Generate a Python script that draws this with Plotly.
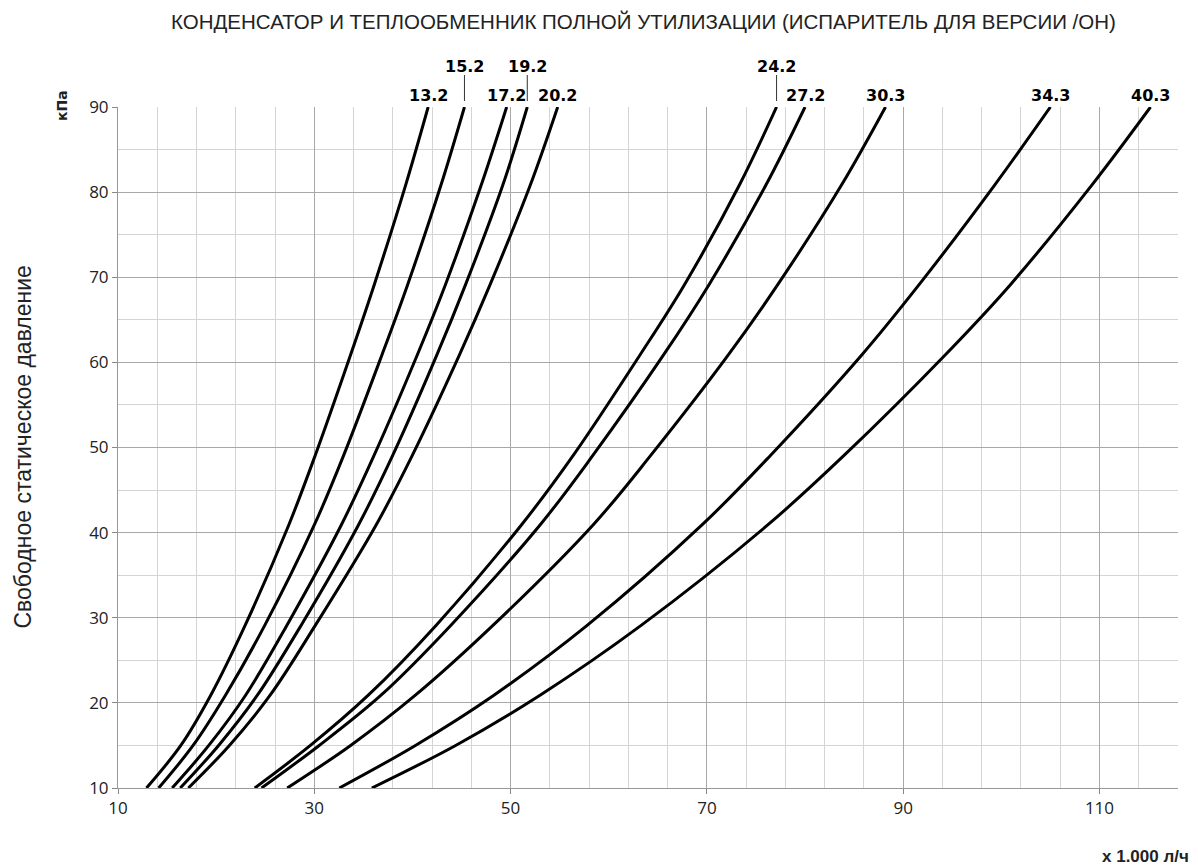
import plotly.graph_objects as go

# Pressure levels (kPa) at which the flow values were read
pressure = [10, 15, 20.9, 29.1, 40.9, 49.1, 60.9, 69.1, 80.8, 90]

# Flow (x 1000 l/h) of each curve at those pressure levels
curve_13_2 = [12.9, 16.4, 19.45, 22.95, 27.4, 30.1, 33.7, 36.1, 39.3, 41.6]
curve_15_2 = [14.14, 17.65, 20.95, 24.95, 30.0, 33.0, 36.9, 39.5, 42.9, 45.3]
curve_17_2 = [15.52, 19.25, 23.0, 27.2, 32.75, 36.1, 40.5, 43.35, 47.0, 49.6]
curve_19_2 = [16.34, 20.25, 24.2, 28.65, 34.5, 38.0, 42.5, 45.4, 49.2, 51.7]
curve_20_2 = [17.17, 21.35, 25.5, 30.1, 36.3, 40.0, 44.8, 47.9, 52.0, 54.8]
curve_24_2 = [23.93, 29.6, 35.5, 42.4, 51.1, 56.4, 63.2, 67.7, 73.3, 77.1]
curve_27_2 = [24.62, 30.5, 36.8, 43.9, 53.0, 58.4, 65.6, 70.2, 76.0, 80.0]
curve_30_3 = [27.24, 33.7, 40.3, 48.2, 58.4, 64.3, 72.2, 77.2, 83.7, 88.2]
curve_34_3 = [32.55, 40.3, 48.3, 57.8, 69.5, 76.5, 85.8, 91.6, 99.3, 105.0]
curve_40_3 = [35.86, 44.4, 53.0, 63.3, 76.2, 84.0, 94.3, 100.9, 109.2, 115.2]

curve_names = ["13.2", "15.2", "17.2", "19.2", "20.2", "24.2", "27.2", "30.3", "34.3", "40.3"]
curves = [curve_13_2, curve_15_2, curve_17_2, curve_19_2, curve_20_2,
          curve_24_2, curve_27_2, curve_30_3, curve_34_3, curve_40_3]
# labels drawn on the upper row (with a leader line)
upper_labels = ["15.2", "19.2", "24.2"]

title_text = "КОНДЕНСАТОР И ТЕПЛООБМЕННИК ПОЛНОЙ УТИЛИЗАЦИИ (ИСПАРИТЕЛЬ ДЛЯ ВЕРСИИ /ОН)"
y_title = "Свободное статическое давление"
y_unit = "кПа"
x_unit = "x 1.000 л/ч"

# page has an 8px body margin; figure sized to fill the rest of the window
W, H = 1190, 859
L, R, T, B = 110, 20, 99, 79
plot_w = W - L - R
plot_h = H - T - B
OFF = 8


def sx_to_paper(sx):
    return (sx - OFF - L) / plot_w


def sy_to_paper(sy):
    return 1 + (T + OFF - sy) / plot_h


fig = go.Figure()
for name, xs in zip(curve_names, curves):
    fig.add_trace(go.Scatter(x=xs, y=pressure, mode="lines", name=name,
                             line=dict(color="black", width=3, shape="spline", smoothing=1.0),
                             showlegend=False, hoverinfo="skip"))

label_font = dict(family="DejaVu Sans", size=16, color="black")
for name, xs in zip(curve_names, curves):
    top_x = xs[-1]
    if name in upper_labels:
        fig.add_annotation(x=top_x, xref="x", y=sy_to_paper(67), yref="paper",
                           text="<b>%s</b>" % name, showarrow=False, font=label_font,
                           xanchor="center", yanchor="middle")
        fig.add_shape(type="line", xref="x", yref="paper", x0=top_x, x1=top_x,
                      y0=sy_to_paper(101), y1=sy_to_paper(75),
                      line=dict(color="#333333", width=1))
    else:
        fig.add_annotation(x=top_x, xref="x", y=sy_to_paper(95), yref="paper",
                           text="<b>%s</b>" % name, showarrow=False, font=label_font,
                           xanchor="center", yanchor="middle")

fig.add_annotation(x=sx_to_paper(643), xref="paper", y=sy_to_paper(22), yref="paper",
                   text=title_text, showarrow=False,
                   font=dict(family="Liberation Sans", size=20.5, color="#222222"),
                   xanchor="center", yanchor="middle")
fig.add_annotation(x=sx_to_paper(22), xref="paper", y=0.5, yref="paper",
                   text=y_title, textangle=-90, showarrow=False,
                   font=dict(family="Liberation Sans", size=23, color="#222222"),
                   xanchor="center", yanchor="middle")
fig.add_annotation(x=sx_to_paper(62), xref="paper", y=sy_to_paper(106), yref="paper",
                   text="<b>%s</b>" % y_unit, textangle=-90, showarrow=False,
                   font=dict(family="DejaVu Sans", size=14, color="#222222"),
                   xanchor="center", yanchor="middle")
fig.add_annotation(x=sx_to_paper(1191), xref="paper", y=sy_to_paper(856), yref="paper",
                   text="<b>%s</b>" % x_unit, showarrow=False,
                   font=dict(family="Liberation Sans", size=17, color="#222222"),
                   xanchor="right", yanchor="middle")

tick_font = dict(family="Open Sans", size=17, color="#222222")
fig.update_xaxes(range=[10, 118], tick0=10, dtick=20, showgrid=True, gridcolor="#a8a8a8", gridwidth=1,
                 minor=dict(tick0=10, dtick=4, showgrid=True, gridcolor="#d4d4d4", gridwidth=1),
                 ticks="outside", ticklen=5, tickcolor="#888888",
                 showline=True, linecolor="#999999", linewidth=1, mirror=False,
                 zeroline=False, tickfont=tick_font, fixedrange=True)
fig.update_yaxes(range=[10, 90], tick0=10, dtick=10, showgrid=True, gridcolor="#a8a8a8", gridwidth=1,
                 minor=dict(tick0=10, dtick=5, showgrid=True, gridcolor="#d4d4d4", gridwidth=1),
                 ticks="outside", ticklen=5, tickcolor="#888888",
                 showline=True, linecolor="#999999", linewidth=1,
                 zeroline=False, tickfont=tick_font, fixedrange=True)

fig.update_layout(width=W, height=H, margin=dict(l=L, r=R, t=T, b=B),
                  plot_bgcolor="white", paper_bgcolor="white")

fig.write_html("out.html")
